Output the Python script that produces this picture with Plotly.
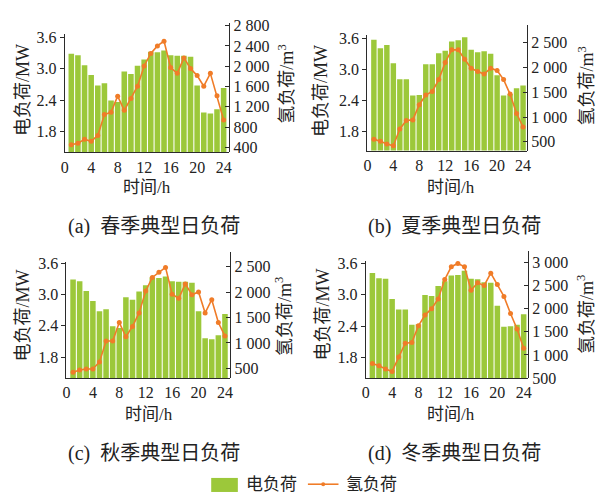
import plotly.graph_objects as go

# Hourly data for the four typical days
hours = list(range(1, 25))

elec_spring = [3.29, 3.26, 3.07, 2.88, 2.68, 2.72, 2.39, 2.36, 2.95, 2.90, 3.06, 3.18,
               3.33, 3.32, 3.35, 3.26, 3.25, 3.25, 3.23, 2.68, 2.16, 2.14, 2.22, 2.63]
h2_spring = [451, 483, 559, 521, 635, 1048, 1092, 1410, 1130, 1365, 1606, 2006,
             2254, 2400, 2495, 1975, 1860, 2165, 1956, 1816, 1606, 1860, 1416, 940]

elec_summer = [3.57, 3.41, 3.47, 3.12, 2.81, 2.81, 2.50, 2.51, 3.10, 3.10, 3.31, 3.36,
               3.54, 3.56, 3.62, 3.38, 3.33, 3.35, 3.30, 2.89, 2.50, 2.53, 2.64, 2.69]
h2_summer = [552, 513, 455, 422, 760, 929, 942, 1247, 1442, 1513, 1753, 2097,
             2351, 2351, 2162, 1981, 1916, 1864, 1981, 1935, 1753, 1461, 1071, 799]

elec_autumn = [3.29, 3.26, 3.07, 2.88, 2.68, 2.72, 2.39, 2.36, 2.95, 2.90, 3.06, 3.18,
               3.33, 3.32, 3.35, 3.26, 3.25, 3.25, 3.23, 2.68, 2.16, 2.14, 2.22, 2.63]
h2_autumn = [424, 468, 487, 487, 627, 1040, 1040, 1402, 1122, 1325, 1592, 2024,
             2290, 2392, 2487, 1960, 1878, 2163, 1948, 2005, 1592, 1852, 1402, 1135]

elec_winter = [3.42, 3.32, 3.31, 2.92, 2.72, 2.72, 2.43, 2.44, 3.00, 2.98, 3.17, 3.26,
               3.37, 3.38, 3.46, 3.31, 3.30, 3.24, 3.23, 2.79, 2.39, 2.40, 2.43, 2.63]
h2_winter = [814, 765, 696, 640, 954, 1254, 1268, 1631, 1862, 2001, 2211, 2630,
             2909, 2979, 2909, 2399, 2560, 2504, 2770, 2525, 2267, 1897, 1561, 1142]

x_ticks = [0, 4, 8, 12, 16, 20, 24]
left_ticks = [1.8, 2.4, 3.0, 3.6]
right_ticks_a = [400, 800, 1200, 1600, 2000, 2400, 2800]
right_ticks_bc = [500, 1000, 1500, 2000, 2500]
right_ticks_d = [500, 1000, 1500, 2000, 2500, 3000]

captions = ["(a)\u2002春季典型日负荷", "(b)\u2002夏季典型日负荷",
            "(c)\u2002秋季典型日负荷", "(d)\u2002冬季典型日负荷"]

BAR_COLOR = "#9CC83A"
LINE_COLOR = "#F07C28"
AXIS_COLOR = "#2b2b2b"
TEXT_COLOR = "#222222"
NUM_FONT = "'Liberation Serif', 'Times New Roman', serif"
CJK_FONT = "'Liberation Serif', 'Noto Sans CJK SC', serif"

W, H = 601, 500


def fx(p):
    return p / W


def fy(p):
    return 1 - p / H


def fmt(v):
    return f"{v:,}".replace(",", " ")


# Panel geometry in pixels
panels = [
    dict(elec=elec_spring, h2=h2_spring, x0=61.5, x1=228.3, yb=150.0, ytl=28.3, ytr=17.0,
         yr=[1.396, 3.662], y2r=[305, 2844], xmax=24.85, rt=right_ticks_a,
         lt_x=20, lt_y=86, rt_x=286, rt_y=80, xt=(145, 186), cap=(152, 227)),
    dict(elec=elec_summer, h2=h2_summer, x0=368.3, x1=530.0, yb=148.3, ytl=29.3, ytr=18.3,
         yr=[1.440, 3.656], y2r=[325, 2857], xmax=24.6, rt=right_ticks_bc,
         lt_x=322, lt_y=87, rt_x=590, rt_y=82, xt=(453, 186), cap=(457, 227)),
    dict(elec=elec_autumn, h2=h2_autumn, x0=63.3, x1=229.3, yb=383.3, ytl=263.3, ytr=252.7,
         yr=[1.396, 3.631], y2r=[310, 2798], xmax=24.8, rt=right_ticks_bc,
         lt_x=19, lt_y=319, rt_x=284, rt_y=320, xt=(147, 421), cap=(152, 461)),
    dict(elec=elec_winter, h2=h2_winter, x0=366.7, x1=531.0, yb=383.3, ytl=262.7, ytr=252.3,
         yr=[1.411, 3.642], y2r=[500, 3244], xmax=24.65, rt=right_ticks_d,
         lt_x=323, lt_y=318, rt_x=590, rt_y=318, xt=(453, 421), cap=(457, 461)),
]

fig = go.Figure()
layout = dict(width=W, height=H, margin=dict(l=0, r=0, t=0, b=0),
              paper_bgcolor="white", plot_bgcolor="rgba(0,0,0,0)",
              showlegend=False)
annotations = []
shapes = []
tick_font = dict(family=NUM_FONT, size=16, color=TEXT_COLOR)

for i, p in enumerate(panels):
    xn = i + 1
    yl = 2 * i + 1
    yr = 2 * i + 2
    xname = "x" if xn == 1 else f"x{xn}"
    ylname = "y" if yl == 1 else f"y{yl}"
    yrname = f"y{yr}"

    fig.add_trace(go.Bar(x=hours, y=p["elec"], xaxis=xname, yaxis=ylname,
                         marker=dict(color=BAR_COLOR, line=dict(width=0)),
                         width=0.84, name="电负荷"))
    fig.add_trace(go.Scatter(x=hours, y=p["h2"], xaxis=xname, yaxis=yrname,
                             mode="lines+markers", name="氢负荷",
                             line=dict(color=LINE_COLOR, width=1.6),
                             marker=dict(color=LINE_COLOR, size=5, symbol="circle")))

    xkey = "xaxis" if xn == 1 else f"xaxis{xn}"
    ylkey = "yaxis" if yl == 1 else f"yaxis{yl}"
    yrkey = f"yaxis{yr}"

    layout[xkey] = dict(domain=[fx(p["x0"]), fx(p["x1"])], anchor=ylname,
                        range=[0, p["xmax"]], tickvals=x_ticks,
                        ticks="", showgrid=False, zeroline=False,
                        showline=True, linecolor=AXIS_COLOR, linewidth=1.2,
                        tickfont=tick_font)
    layout[ylkey] = dict(domain=[fy(p["yb"]), fy(p["ytl"])], anchor=xname,
                         range=p["yr"], tickvals=left_ticks,
                         ticktext=[f"{v:.1f}" for v in left_ticks],
                         ticks="outside", ticklen=4, tickcolor=AXIS_COLOR,
                         showgrid=False, zeroline=False,
                         showline=True, linecolor=AXIS_COLOR, linewidth=1.2,
                         tickfont=tick_font)
    layout[yrkey] = dict(domain=[fy(p["yb"]), fy(p["ytr"])], anchor=xname, side="right",
                         range=p["y2r"], tickvals=p["rt"],
                         ticktext=[fmt(v) for v in p["rt"]],
                         ticks="inside", ticklen=4, tickcolor=AXIS_COLOR,
                         showgrid=False, zeroline=False,
                         showline=True, linecolor=AXIS_COLOR, linewidth=1.2,
                         tickfont=tick_font)

    # Axis titles
    annotations.append(dict(text="电负荷/MW", x=fx(p["lt_x"]), y=fy(p["lt_y"]),
                            xref="paper", yref="paper", textangle=-90, showarrow=False,
                            xanchor="center", yanchor="middle",
                            font=dict(family=CJK_FONT, size=18, color=TEXT_COLOR)))
    annotations.append(dict(text="氢负荷/m<sup>3</sup>", x=fx(p["rt_x"]), y=fy(p["rt_y"]),
                            xref="paper", yref="paper", textangle=-90, showarrow=False,
                            xanchor="center", yanchor="middle",
                            font=dict(family=CJK_FONT, size=18, color=TEXT_COLOR)))
    annotations.append(dict(text="时间/h", x=fx(p["xt"][0]), y=fy(p["xt"][1]),
                            xref="paper", yref="paper", showarrow=False,
                            xanchor="center", yanchor="middle",
                            font=dict(family=CJK_FONT, size=17, color=TEXT_COLOR)))
    annotations.append(dict(text=captions[i], x=fx(p["cap"][0]), y=fy(p["cap"][1]),
                            xref="paper", yref="paper", showarrow=False,
                            xanchor="center", yanchor="middle",
                            font=dict(family=CJK_FONT, size=20, color=TEXT_COLOR)))

# Shared legend at the bottom
shapes.append(dict(type="rect", xref="paper", yref="paper",
                   x0=fx(210), x1=fx(237), y0=fy(501), y1=fy(486.5),
                   fillcolor=BAR_COLOR, line=dict(width=0)))
annotations.append(dict(text="电负荷", x=fx(243), y=fy(493), xref="paper", yref="paper",
                        showarrow=False, xanchor="left", yanchor="middle",
                        font=dict(family=CJK_FONT, size=17, color=TEXT_COLOR)))
shapes.append(dict(type="line", xref="paper", yref="paper",
                   x0=fx(308), x1=fx(339), y0=fy(493), y1=fy(493),
                   line=dict(color=LINE_COLOR, width=1.6)))
shapes.append(dict(type="circle", xref="paper", yref="paper",
                   x0=fx(321.5), x1=fx(325.5), y0=fy(495), y1=fy(491),
                   fillcolor=LINE_COLOR, line=dict(width=0)))
annotations.append(dict(text="氢负荷", x=fx(345), y=fy(493), xref="paper", yref="paper",
                        showarrow=False, xanchor="left", yanchor="middle",
                        font=dict(family=CJK_FONT, size=17, color=TEXT_COLOR)))

layout["annotations"] = annotations
layout["shapes"] = shapes
fig.update_layout(**layout)

fig.write_html("out.html")
